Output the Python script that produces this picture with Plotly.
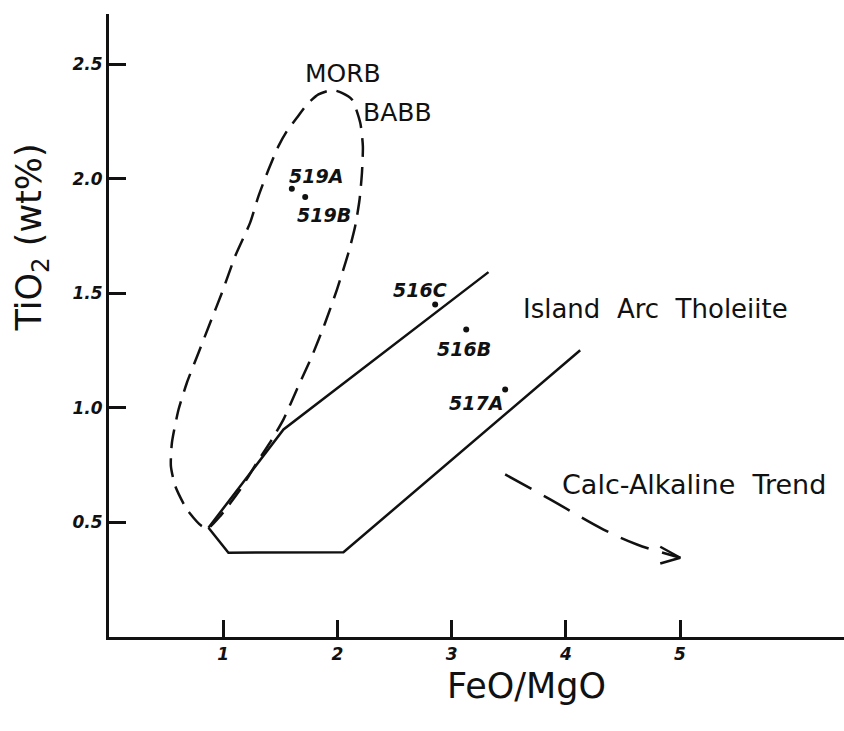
import plotly.graph_objects as go

# ---- data ----
# MORB / BABB dashed envelope (FeO/MgO, TiO2)
env_x = [0.871, 0.813, 0.682, 0.580, 0.542, 0.551, 0.609, 0.682, 0.784, 0.886, 0.989, 1.105,
         1.236, 1.309, 1.397, 1.484, 1.558, 1.645, 1.733, 1.834, 1.952, 2.039, 2.127, 2.200,
         2.223, 2.215, 2.194, 2.156, 2.097, 1.996, 1.893, 1.777, 1.645, 1.528, 1.426, 1.295,
         1.149, 0.974, 0.871]
env_y = [0.477, 0.484, 0.557, 0.659, 0.746, 0.848, 0.993, 1.110, 1.241, 1.372, 1.503, 1.663,
         1.809, 1.925, 2.041, 2.143, 2.209, 2.267, 2.325, 2.369, 2.388, 2.376, 2.347, 2.245,
         2.143, 2.027, 1.910, 1.794, 1.678, 1.517, 1.372, 1.226, 1.081, 0.950, 0.862, 0.761,
         0.644, 0.528, 0.477]

# Island Arc Tholeiite field boundaries (solid)
iat_upper_x = [0.871, 1.528, 3.323]
iat_upper_y = [0.477, 0.906, 1.593]
iat_lower_x = [0.871, 1.046, 2.053, 4.126]
iat_lower_y = [0.477, 0.368, 0.370, 1.252]

# Calc-alkaline trend arrow (dashed) and its head
trend_x = [3.469, 3.863, 4.330, 4.623, 5.002]
trend_y = [0.710, 0.601, 0.469, 0.404, 0.346]
head_x = [4.827, 5.002, 4.827]
head_y = [0.394, 0.346, 0.321]

# Samples
sample_names = ["519A", "519B", "516C", "516B", "517A"]
sample_x = [1.601, 1.718, 2.856, 3.128, 3.469]
sample_y = [1.957, 1.921, 1.452, 1.343, 1.081]

# Axis ticks
x_ticks = [1, 2, 3, 4, 5]
x_tick_labels = ["1", "2", "3", "4", "5"]
y_ticks = [0.5, 1.0, 1.5, 2.0, 2.5]
y_tick_labels = ["0.5", "1.0", "1.5", "2.0", "2.5"]

# ---- label placement (layout) ----
sample_label_pos = {
    "519A": (1.813, 2.012),
    "519B": (1.879, 1.841),
    "516C": (2.725, 1.516),
    "516B": (3.106, 1.258),
    "517A": (3.215, 1.023),
}
field_labels = [
    ("MORB", 2.046, 2.461, 25),
    ("BABB", 2.524, 2.289, 25),
    ("Island\u00a0 Arc\u00a0 Tholeiite", 4.783, 1.433, 26),
    ("Calc-Alkaline\u00a0 Trend", 5.119, 0.666, 27),
]

INK = "#111111"
FONT = "DejaVu Sans"

fig = go.Figure()

fig.add_trace(go.Scatter(x=env_x, y=env_y, mode="lines",
                         line=dict(color=INK, width=2.5, dash="19px,10px", shape="spline", smoothing=0.6),
                         hoverinfo="skip", showlegend=False))
fig.add_trace(go.Scatter(x=iat_upper_x, y=iat_upper_y, mode="lines",
                         line=dict(color=INK, width=2.5), showlegend=False, hoverinfo="skip"))
fig.add_trace(go.Scatter(x=iat_lower_x, y=iat_lower_y, mode="lines",
                         line=dict(color=INK, width=2.5), showlegend=False, hoverinfo="skip"))
fig.add_trace(go.Scatter(x=trend_x, y=trend_y, mode="lines",
                         line=dict(color=INK, width=2.5, dash="30px,14px", shape="spline"),
                         showlegend=False, hoverinfo="skip"))
fig.add_trace(go.Scatter(x=head_x, y=head_y, mode="lines",
                         line=dict(color=INK, width=2.5), showlegend=False, hoverinfo="skip"))
fig.add_trace(go.Scatter(x=sample_x, y=sample_y, mode="markers",
                         marker=dict(color=INK, size=6), showlegend=False,
                         text=sample_names, hoverinfo="text"))

annotations = []
for name in sample_names:
    lx, ly = sample_label_pos[name]
    annotations.append(dict(x=lx, y=ly, xref="x", yref="y", text=name, showarrow=False,
                            xanchor="center", yanchor="middle",
                            font=dict(family=FONT, size=19, color=INK, weight="bold", style="italic")))
for txt, lx, ly, sz in field_labels:
    annotations.append(dict(x=lx, y=ly, xref="x", yref="y", text=txt, showarrow=False,
                            xanchor="center", yanchor="middle",
                            font=dict(family=FONT, size=sz, color=INK)))

# axis titles
annotations.append(dict(x=0.568, y=-0.078, xref="paper", yref="paper", text="FeO/MgO",
                        showarrow=False, xanchor="center", yanchor="middle",
                        font=dict(family=FONT, size=35, color=INK)))
annotations.append(dict(x=-0.105, y=0.641, xref="paper", yref="paper",
                        text="TiO<sub>2</sub> (wt%)", textangle=-90,
                        showarrow=False, xanchor="center", yanchor="middle",
                        font=dict(family=FONT, size=35, color=INK)))

fig.update_layout(
    width=844, height=731,
    margin=dict(l=109, r=0, t=14, b=94),
    paper_bgcolor="white", plot_bgcolor="white",
    annotations=annotations,
    showlegend=False,
)
axis_common = dict(showgrid=False, zeroline=False, showline=True, linecolor=INK, linewidth=3,
                   ticks="inside", ticklen=17, tickwidth=2.5, tickcolor=INK, automargin=False,
                   tickfont=dict(family=FONT, size=17, color=INK, weight="bold", style="italic"))
fig.update_xaxes(range=[0, 6.436], tickvals=x_ticks, ticktext=x_tick_labels, **axis_common)
fig.update_yaxes(range=[0, 2.72], tickvals=y_ticks, ticktext=y_tick_labels, **axis_common)

fig.write_html("out.html", config={"displayModeBar": False},
               post_script="document.body.style.margin='0';document.body.style.overflow='hidden';")
